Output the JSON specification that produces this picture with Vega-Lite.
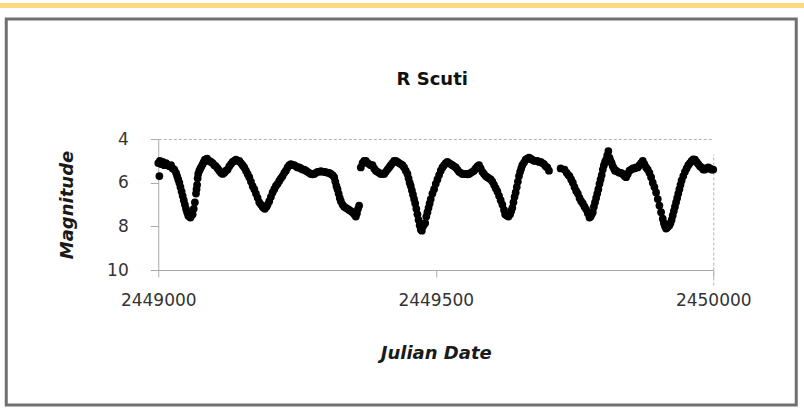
{
  "$schema": "https://vega.github.io/schema/vega-lite/v6.json",
  "padding": {"left": 0, "top": 3, "right": 0, "bottom": 0},
  "background": "white",
  "spacing": 9,
  "center": true,
  "config": {"font": "DejaVu Sans"},
  "vconcat": [
    {
      "width": 804,
      "height": 5,
      "view": {"fill": "#FFD880", "stroke": null},
      "data": {"values": []},
      "mark": "point"
    },
    {
      "width": 790,
      "height": 386,
      "view": {"fill": "white", "stroke": "#707070", "strokeWidth": 3},
      "title": {
        "text": "R Scuti",
        "font": "DejaVu Sans",
        "fontSize": 18,
        "fontWeight": "bold",
        "color": "#111",
        "offset": -70,
        "dx": 31,
        "anchor": "middle"
      },
      "data": {
        "values": [
          {"jd": 2449000, "mag": 5.1}, {"jd": 2449002, "mag": 5.7}, {"jd": 2449003, "mag": 5.0}, {"jd": 2449005, "mag": 5.15},
          {"jd": 2449008, "mag": 5.05}, {"jd": 2449011, "mag": 5.2}, {"jd": 2449014, "mag": 5.1}, {"jd": 2449017, "mag": 5.2},
          {"jd": 2449020, "mag": 5.25}, {"jd": 2449023, "mag": 5.2}, {"jd": 2449026, "mag": 5.35}, {"jd": 2449029, "mag": 5.4},
          {"jd": 2449032, "mag": 5.55}, {"jd": 2449034, "mag": 5.7}, {"jd": 2449036, "mag": 5.85}, {"jd": 2449038, "mag": 6.0},
          {"jd": 2449040, "mag": 6.2}, {"jd": 2449042, "mag": 6.4}, {"jd": 2449044, "mag": 6.6}, {"jd": 2449046, "mag": 6.8},
          {"jd": 2449048, "mag": 7.0}, {"jd": 2449050, "mag": 7.2}, {"jd": 2449052, "mag": 7.35}, {"jd": 2449054, "mag": 7.5},
          {"jd": 2449056, "mag": 7.55}, {"jd": 2449058, "mag": 7.6}, {"jd": 2449060, "mag": 7.5}, {"jd": 2449062, "mag": 7.45},
          {"jd": 2449064, "mag": 7.2}, {"jd": 2449066, "mag": 6.9}, {"jd": 2449068, "mag": 6.5}, {"jd": 2449069, "mag": 6.3},
          {"jd": 2449070, "mag": 6.1}, {"jd": 2449071, "mag": 5.8}, {"jd": 2449072, "mag": 5.6}, {"jd": 2449074, "mag": 5.45},
          {"jd": 2449076, "mag": 5.35}, {"jd": 2449078, "mag": 5.25}, {"jd": 2449080, "mag": 5.15}, {"jd": 2449082, "mag": 5.05},
          {"jd": 2449084, "mag": 4.95}, {"jd": 2449086, "mag": 4.95}, {"jd": 2449088, "mag": 4.9}, {"jd": 2449090, "mag": 5.0},
          {"jd": 2449092, "mag": 5.0}, {"jd": 2449095, "mag": 5.05}, {"jd": 2449098, "mag": 5.1}, {"jd": 2449101, "mag": 5.2},
          {"jd": 2449104, "mag": 5.25}, {"jd": 2449107, "mag": 5.35}, {"jd": 2449110, "mag": 5.45}, {"jd": 2449113, "mag": 5.55},
          {"jd": 2449116, "mag": 5.6}, {"jd": 2449119, "mag": 5.55}, {"jd": 2449122, "mag": 5.45}, {"jd": 2449125, "mag": 5.4},
          {"jd": 2449128, "mag": 5.25}, {"jd": 2449131, "mag": 5.15}, {"jd": 2449134, "mag": 5.05}, {"jd": 2449137, "mag": 5.0},
          {"jd": 2449140, "mag": 4.95}, {"jd": 2449143, "mag": 5.0}, {"jd": 2449146, "mag": 5.0}, {"jd": 2449149, "mag": 5.1},
          {"jd": 2449152, "mag": 5.2}, {"jd": 2449155, "mag": 5.3}, {"jd": 2449158, "mag": 5.45}, {"jd": 2449161, "mag": 5.6},
          {"jd": 2449164, "mag": 5.75}, {"jd": 2449167, "mag": 5.95}, {"jd": 2449170, "mag": 6.15}, {"jd": 2449173, "mag": 6.3},
          {"jd": 2449176, "mag": 6.5}, {"jd": 2449179, "mag": 6.7}, {"jd": 2449182, "mag": 6.9}, {"jd": 2449185, "mag": 7.0},
          {"jd": 2449188, "mag": 7.1}, {"jd": 2449190, "mag": 7.15}, {"jd": 2449192, "mag": 7.2}, {"jd": 2449195, "mag": 7.1},
          {"jd": 2449197, "mag": 7.0}, {"jd": 2449200, "mag": 6.85}, {"jd": 2449203, "mag": 6.65}, {"jd": 2449206, "mag": 6.45},
          {"jd": 2449209, "mag": 6.3}, {"jd": 2449212, "mag": 6.15}, {"jd": 2449215, "mag": 6.05}, {"jd": 2449218, "mag": 5.92},
          {"jd": 2449221, "mag": 5.8}, {"jd": 2449224, "mag": 5.7}, {"jd": 2449227, "mag": 5.55}, {"jd": 2449230, "mag": 5.45},
          {"jd": 2449233, "mag": 5.3}, {"jd": 2449236, "mag": 5.2}, {"jd": 2449239, "mag": 5.15}, {"jd": 2449242, "mag": 5.2},
          {"jd": 2449245, "mag": 5.2}, {"jd": 2449248, "mag": 5.25}, {"jd": 2449251, "mag": 5.3}, {"jd": 2449254, "mag": 5.3},
          {"jd": 2449257, "mag": 5.35}, {"jd": 2449260, "mag": 5.4}, {"jd": 2449263, "mag": 5.4}, {"jd": 2449266, "mag": 5.45},
          {"jd": 2449269, "mag": 5.5}, {"jd": 2449272, "mag": 5.55}, {"jd": 2449275, "mag": 5.6}, {"jd": 2449278, "mag": 5.62},
          {"jd": 2449281, "mag": 5.6}, {"jd": 2449284, "mag": 5.55}, {"jd": 2449287, "mag": 5.5}, {"jd": 2449290, "mag": 5.5},
          {"jd": 2449293, "mag": 5.47}, {"jd": 2449296, "mag": 5.5}, {"jd": 2449299, "mag": 5.5}, {"jd": 2449302, "mag": 5.52},
          {"jd": 2449305, "mag": 5.55}, {"jd": 2449308, "mag": 5.55}, {"jd": 2449311, "mag": 5.6}, {"jd": 2449314, "mag": 5.65},
          {"jd": 2449317, "mag": 5.75}, {"jd": 2449319, "mag": 5.95}, {"jd": 2449321, "mag": 6.15}, {"jd": 2449323, "mag": 6.3},
          {"jd": 2449325, "mag": 6.5}, {"jd": 2449327, "mag": 6.7}, {"jd": 2449329, "mag": 6.85}, {"jd": 2449332, "mag": 7.0},
          {"jd": 2449335, "mag": 7.1}, {"jd": 2449338, "mag": 7.15}, {"jd": 2449341, "mag": 7.2}, {"jd": 2449344, "mag": 7.25},
          {"jd": 2449347, "mag": 7.3}, {"jd": 2449350, "mag": 7.35}, {"jd": 2449353, "mag": 7.45}, {"jd": 2449356, "mag": 7.55},
          {"jd": 2449358, "mag": 7.4}, {"jd": 2449360, "mag": 7.2}, {"jd": 2449362, "mag": 7.05},
          {"jd": 2449365, "mag": 5.3}, {"jd": 2449368, "mag": 5.1}, {"jd": 2449371, "mag": 5.0}, {"jd": 2449374, "mag": 5.0},
          {"jd": 2449377, "mag": 5.1}, {"jd": 2449380, "mag": 5.15}, {"jd": 2449383, "mag": 5.2}, {"jd": 2449386, "mag": 5.2},
          {"jd": 2449389, "mag": 5.35}, {"jd": 2449392, "mag": 5.45}, {"jd": 2449395, "mag": 5.5}, {"jd": 2449398, "mag": 5.55},
          {"jd": 2449401, "mag": 5.6}, {"jd": 2449404, "mag": 5.6}, {"jd": 2449407, "mag": 5.6}, {"jd": 2449410, "mag": 5.5},
          {"jd": 2449413, "mag": 5.4}, {"jd": 2449416, "mag": 5.3}, {"jd": 2449419, "mag": 5.2}, {"jd": 2449422, "mag": 5.1},
          {"jd": 2449425, "mag": 5.0}, {"jd": 2449428, "mag": 5.0}, {"jd": 2449431, "mag": 5.05}, {"jd": 2449434, "mag": 5.1},
          {"jd": 2449437, "mag": 5.15}, {"jd": 2449440, "mag": 5.2}, {"jd": 2449443, "mag": 5.3}, {"jd": 2449446, "mag": 5.45},
          {"jd": 2449449, "mag": 5.6}, {"jd": 2449451, "mag": 5.8}, {"jd": 2449453, "mag": 6.0}, {"jd": 2449455, "mag": 6.15},
          {"jd": 2449457, "mag": 6.35}, {"jd": 2449459, "mag": 6.55}, {"jd": 2449461, "mag": 6.75}, {"jd": 2449463, "mag": 6.95},
          {"jd": 2449465, "mag": 7.2}, {"jd": 2449467, "mag": 7.45}, {"jd": 2449469, "mag": 7.7}, {"jd": 2449471, "mag": 7.95},
          {"jd": 2449473, "mag": 8.15}, {"jd": 2449475, "mag": 8.2}, {"jd": 2449477, "mag": 8.0}, {"jd": 2449479, "mag": 7.9},
          {"jd": 2449481, "mag": 7.85}, {"jd": 2449483, "mag": 7.55}, {"jd": 2449485, "mag": 7.35}, {"jd": 2449487, "mag": 7.15},
          {"jd": 2449489, "mag": 6.95}, {"jd": 2449491, "mag": 6.75}, {"jd": 2449494, "mag": 6.5}, {"jd": 2449497, "mag": 6.3},
          {"jd": 2449500, "mag": 6.05}, {"jd": 2449503, "mag": 5.85}, {"jd": 2449506, "mag": 5.65}, {"jd": 2449509, "mag": 5.45},
          {"jd": 2449512, "mag": 5.3}, {"jd": 2449515, "mag": 5.2}, {"jd": 2449518, "mag": 5.1}, {"jd": 2449521, "mag": 5.05},
          {"jd": 2449524, "mag": 5.1}, {"jd": 2449527, "mag": 5.15}, {"jd": 2449530, "mag": 5.2}, {"jd": 2449533, "mag": 5.25},
          {"jd": 2449536, "mag": 5.3}, {"jd": 2449539, "mag": 5.4}, {"jd": 2449542, "mag": 5.5}, {"jd": 2449545, "mag": 5.55},
          {"jd": 2449548, "mag": 5.6}, {"jd": 2449551, "mag": 5.6}, {"jd": 2449554, "mag": 5.6}, {"jd": 2449557, "mag": 5.62},
          {"jd": 2449560, "mag": 5.6}, {"jd": 2449563, "mag": 5.55}, {"jd": 2449566, "mag": 5.5}, {"jd": 2449569, "mag": 5.45},
          {"jd": 2449572, "mag": 5.35}, {"jd": 2449575, "mag": 5.25}, {"jd": 2449578, "mag": 5.2}, {"jd": 2449581, "mag": 5.35},
          {"jd": 2449584, "mag": 5.5}, {"jd": 2449587, "mag": 5.6}, {"jd": 2449590, "mag": 5.7}, {"jd": 2449593, "mag": 5.75},
          {"jd": 2449596, "mag": 5.8}, {"jd": 2449599, "mag": 5.85}, {"jd": 2449602, "mag": 5.95}, {"jd": 2449605, "mag": 6.1},
          {"jd": 2449608, "mag": 6.25}, {"jd": 2449611, "mag": 6.4}, {"jd": 2449614, "mag": 6.6}, {"jd": 2449617, "mag": 6.8},
          {"jd": 2449620, "mag": 7.0}, {"jd": 2449623, "mag": 7.25}, {"jd": 2449625, "mag": 7.45}, {"jd": 2449628, "mag": 7.5},
          {"jd": 2449631, "mag": 7.55}, {"jd": 2449634, "mag": 7.45}, {"jd": 2449636, "mag": 7.3}, {"jd": 2449638, "mag": 7.15},
          {"jd": 2449640, "mag": 6.9}, {"jd": 2449642, "mag": 6.65}, {"jd": 2449644, "mag": 6.45}, {"jd": 2449646, "mag": 6.2},
          {"jd": 2449648, "mag": 5.95}, {"jd": 2449650, "mag": 5.7}, {"jd": 2449652, "mag": 5.5}, {"jd": 2449654, "mag": 5.35},
          {"jd": 2449656, "mag": 5.2}, {"jd": 2449659, "mag": 5.08}, {"jd": 2449662, "mag": 4.95}, {"jd": 2449665, "mag": 4.9},
          {"jd": 2449668, "mag": 4.85}, {"jd": 2449671, "mag": 4.9}, {"jd": 2449674, "mag": 4.95}, {"jd": 2449677, "mag": 5.0},
          {"jd": 2449680, "mag": 5.0}, {"jd": 2449683, "mag": 5.0}, {"jd": 2449686, "mag": 5.05}, {"jd": 2449689, "mag": 5.05},
          {"jd": 2449692, "mag": 5.1}, {"jd": 2449695, "mag": 5.15}, {"jd": 2449698, "mag": 5.25}, {"jd": 2449701, "mag": 5.3},
          {"jd": 2449704, "mag": 5.45},
          {"jd": 2449725, "mag": 5.35}, {"jd": 2449732, "mag": 5.4}, {"jd": 2449736, "mag": 5.55}, {"jd": 2449739, "mag": 5.65},
          {"jd": 2449741, "mag": 5.7}, {"jd": 2449744, "mag": 5.85}, {"jd": 2449747, "mag": 6.0}, {"jd": 2449750, "mag": 6.2},
          {"jd": 2449753, "mag": 6.38}, {"jd": 2449756, "mag": 6.5}, {"jd": 2449759, "mag": 6.7}, {"jd": 2449762, "mag": 6.85},
          {"jd": 2449765, "mag": 6.95}, {"jd": 2449768, "mag": 7.1}, {"jd": 2449771, "mag": 7.22}, {"jd": 2449774, "mag": 7.4},
          {"jd": 2449777, "mag": 7.6}, {"jd": 2449779, "mag": 7.55}, {"jd": 2449781, "mag": 7.45}, {"jd": 2449783, "mag": 7.35},
          {"jd": 2449785, "mag": 7.1}, {"jd": 2449787, "mag": 6.9}, {"jd": 2449789, "mag": 6.7}, {"jd": 2449791, "mag": 6.5},
          {"jd": 2449793, "mag": 6.3}, {"jd": 2449795, "mag": 6.05}, {"jd": 2449797, "mag": 5.85}, {"jd": 2449799, "mag": 5.65},
          {"jd": 2449801, "mag": 5.4}, {"jd": 2449803, "mag": 5.2}, {"jd": 2449805, "mag": 5.05}, {"jd": 2449807, "mag": 4.95},
          {"jd": 2449809, "mag": 4.75}, {"jd": 2449811, "mag": 4.55}, {"jd": 2449813, "mag": 4.85}, {"jd": 2449815, "mag": 5.0},
          {"jd": 2449817, "mag": 5.1}, {"jd": 2449819, "mag": 5.25}, {"jd": 2449821, "mag": 5.35}, {"jd": 2449823, "mag": 5.45},
          {"jd": 2449825, "mag": 5.45}, {"jd": 2449828, "mag": 5.5}, {"jd": 2449831, "mag": 5.55}, {"jd": 2449834, "mag": 5.55},
          {"jd": 2449837, "mag": 5.6}, {"jd": 2449840, "mag": 5.7}, {"jd": 2449843, "mag": 5.75}, {"jd": 2449846, "mag": 5.6},
          {"jd": 2449849, "mag": 5.45}, {"jd": 2449852, "mag": 5.4}, {"jd": 2449855, "mag": 5.35}, {"jd": 2449858, "mag": 5.35},
          {"jd": 2449861, "mag": 5.3}, {"jd": 2449864, "mag": 5.3}, {"jd": 2449867, "mag": 5.2}, {"jd": 2449870, "mag": 5.1},
          {"jd": 2449873, "mag": 5.0}, {"jd": 2449876, "mag": 5.15}, {"jd": 2449879, "mag": 5.3}, {"jd": 2449882, "mag": 5.4},
          {"jd": 2449885, "mag": 5.55}, {"jd": 2449888, "mag": 5.75}, {"jd": 2449891, "mag": 6.0}, {"jd": 2449894, "mag": 6.2},
          {"jd": 2449897, "mag": 6.45}, {"jd": 2449900, "mag": 6.75}, {"jd": 2449903, "mag": 7.05}, {"jd": 2449906, "mag": 7.35},
          {"jd": 2449909, "mag": 7.65}, {"jd": 2449911, "mag": 7.85}, {"jd": 2449913, "mag": 8.0}, {"jd": 2449915, "mag": 8.1},
          {"jd": 2449917, "mag": 8.05}, {"jd": 2449919, "mag": 8.0}, {"jd": 2449921, "mag": 7.95}, {"jd": 2449923, "mag": 7.85},
          {"jd": 2449925, "mag": 7.7}, {"jd": 2449927, "mag": 7.5}, {"jd": 2449929, "mag": 7.3}, {"jd": 2449931, "mag": 7.1},
          {"jd": 2449933, "mag": 6.9}, {"jd": 2449935, "mag": 6.7}, {"jd": 2449937, "mag": 6.5}, {"jd": 2449939, "mag": 6.3},
          {"jd": 2449941, "mag": 6.1}, {"jd": 2449943, "mag": 5.9}, {"jd": 2449946, "mag": 5.7}, {"jd": 2449949, "mag": 5.5},
          {"jd": 2449952, "mag": 5.35}, {"jd": 2449955, "mag": 5.2}, {"jd": 2449958, "mag": 5.1}, {"jd": 2449961, "mag": 5.0},
          {"jd": 2449964, "mag": 4.93}, {"jd": 2449967, "mag": 4.95}, {"jd": 2449970, "mag": 5.05}, {"jd": 2449973, "mag": 5.15},
          {"jd": 2449976, "mag": 5.25}, {"jd": 2449979, "mag": 5.3}, {"jd": 2449982, "mag": 5.4}, {"jd": 2449985, "mag": 5.4},
          {"jd": 2449988, "mag": 5.35}, {"jd": 2449991, "mag": 5.3}, {"jd": 2449994, "mag": 5.35}, {"jd": 2449997, "mag": 5.4},
          {"jd": 2450000, "mag": 5.4}
        ]
      },
      "mark": {"type": "point", "filled": true, "color": "#000000", "opacity": 1, "size": 60, "clip": false},
      "encoding": {
        "x": {
          "field": "jd",
          "type": "quantitative",
          "scale": {"domain": [2449000, 2450000], "range": [152, 707], "nice": false, "zero": false},
          "axis": {
            "title": "Julian Date",
            "values": [2449000, 2449500, 2450000],
            "format": "d",
            "offset": -135,
            "domainColor": "#aaaaaa",
            "tickColor": "#aaaaaa",
            "tickSize": 7,
            "labelFont": "DejaVu Sans",
            "labelFontSize": 17,
            "labelColor": "#333333",
            "labelPadding": 15,
            "labelFlush": false,
            "titleFont": "DejaVu Sans",
            "titleFontSize": 18,
            "titleFontWeight": "bold",
            "titleFontStyle": "italic",
            "titleColor": "#1a1a1a",
            "titlePadding": 36,
            "grid": true,
            "gridColor": "#b5b5b5",
            "gridDash": [3, 2],
            "gridOpacity": {"condition": {"test": "datum.value === 2450000", "value": 1}, "value": 0}
          }
        },
        "y": {
          "field": "mag",
          "type": "quantitative",
          "scale": {"domain": [4, 10], "range": [120, 251], "nice": false, "zero": false},
          "axis": {
            "title": "Magnitude",
            "values": [4, 6, 8, 10],
            "offset": -152,
            "domainColor": "#aaaaaa",
            "tickColor": "#aaaaaa",
            "tickSize": 8,
            "labelFont": "DejaVu Sans",
            "labelFontSize": 17,
            "labelColor": "#333333",
            "labelPadding": 22,
            "labelAlign": "right",
            "labelFlush": false,
            "titleFont": "DejaVu Sans",
            "titleFontSize": 18,
            "titleFontWeight": "bold",
            "titleFontStyle": "italic",
            "titleColor": "#1a1a1a",
            "titlePadding": 30,
            "grid": true,
            "gridColor": "#b5b5b5",
            "gridDash": [3, 2],
            "gridOpacity": {"condition": {"test": "datum.value === 4", "value": 1}, "value": 0}
          }
        }
      }
    }
  ]
}
